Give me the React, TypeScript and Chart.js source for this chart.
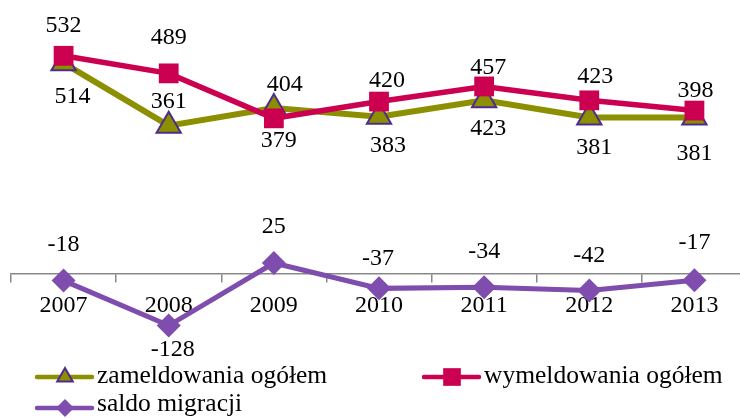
import React, { useEffect, useRef } from 'react';
import { Chart, registerables } from 'chart.js';

Chart.register(...registerables);

const categories = ['2007', '2008', '2009', '2010', '2011', '2012', '2013'];
const zameldowania = [514, 361, 404, 383, 423, 381, 381];
const wymeldowania = [532, 489, 379, 420, 457, 423, 398];
const saldo = [-18, -128, 25, -37, -34, -42, -17];

const seriesNames = ['zameldowania ogółem', 'wymeldowania ogółem', 'saldo migracji'];

const OLIVE = '#8C9000';
const RED = '#CC0050';
const PURPLE = '#7E4DAE';
const EDGE = '#4E2C8C';
const FONT = '"Liberation Serif", "Times New Roman", serif';

// label offsets (px) relative to each point, per series
const labelDy = [
  [34, -24, -23, 29, 28, 30, 36],
  [-30, -36, 22, -21, -19, -24, -20],
  [-36, 24, -36, -30, -35, -35, -37],
];
const labelDx = [
  [9, 0, 11, 9, 4, 5, 0],
  [0, 0, 5, 8, 4, 6, 1],
  [0, 4, 0, -1, 0, 0, 0],
];

function drawMarker(ctx: CanvasRenderingContext2D, style: string, x: number, y: number, r: number, fill: string, stroke?: string) {
  ctx.beginPath();
  if (style === 'triangle') {
    const h = Math.sqrt(3) / 2;
    ctx.moveTo(x, y - r);
    ctx.lineTo(x + r * h, y + r / 2);
    ctx.lineTo(x - r * h, y + r / 2);
    ctx.closePath();
  } else if (style === 'rect') {
    const s = r * Math.SQRT1_2;
    ctx.rect(x - s, y - s, 2 * s, 2 * s);
  } else {
    ctx.moveTo(x - r, y);
    ctx.lineTo(x, y - r);
    ctx.lineTo(x + r, y);
    ctx.lineTo(x, y + r);
    ctx.closePath();
  }
  ctx.fillStyle = fill;
  ctx.fill();
  if (stroke) {
    ctx.strokeStyle = stroke;
    ctx.lineWidth = 2;
    ctx.stroke();
  }
}

const pointLabels = {
  id: 'pointLabels',
  afterDatasetsDraw(chart: any) {
    const ctx = chart.ctx as CanvasRenderingContext2D;
    ctx.save();
    ctx.font = `24px ${FONT}`;
    ctx.fillStyle = '#000';
    ctx.textAlign = 'center';
    ctx.textBaseline = 'middle';
    chart.data.datasets.forEach((ds: any, di: number) => {
      const meta = chart.getDatasetMeta(di);
      meta.data.forEach((pt: any, i: number) => {
        ctx.fillText(String(ds.data[i]), pt.x + labelDx[di][i], pt.y + labelDy[di][i]);
      });
    });
    ctx.restore();
  },
};

const legendItems = [
  { x: 37, y: 377, style: 'triangle', r: 9, color: OLIVE, edge: EDGE },
  { x: 424, y: 377, style: 'rect', r: 12.5, color: RED, edge: undefined },
  { x: 37, y: 408, style: 'rectRot', r: 9, color: PURPLE, edge: undefined },
];

const customLegend = {
  id: 'customLegend',
  afterDraw(chart: any) {
    const ctx = chart.ctx as CanvasRenderingContext2D;
    ctx.save();
    legendItems.forEach((it, i) => {
      ctx.beginPath();
      ctx.strokeStyle = it.color;
      ctx.lineWidth = 4.5;
      ctx.lineCap = 'round';
      ctx.moveTo(it.x, it.y);
      ctx.lineTo(it.x + 55, it.y);
      ctx.stroke();
      drawMarker(ctx, it.style, it.x + 28, it.y, it.r, it.color, it.edge);
      ctx.font = `25.5px ${FONT}`;
      ctx.fillStyle = '#000';
      ctx.textAlign = 'left';
      ctx.textBaseline = 'middle';
      ctx.fillText(seriesNames[i], it.x + 60, it.y - (i === 2 ? 4 : 1));
    });
    ctx.restore();
  },
};

export default function App() {
  const ref = useRef<HTMLCanvasElement>(null);
  useEffect(() => {
    if (!ref.current) return;
    const chart = new Chart(ref.current, {
      type: 'line',
      data: {
        labels: categories,
        datasets: [
          {
            label: seriesNames[0],
            data: zameldowania,
            borderColor: OLIVE,
            backgroundColor: OLIVE,
            borderWidth: 6,
            pointStyle: 'triangle',
            pointRadius: 14,
            pointBackgroundColor: OLIVE,
            pointBorderColor: EDGE,
            pointBorderWidth: 2,
            tension: 0,
            order: 2,
          },
          {
            label: seriesNames[1],
            data: wymeldowania,
            borderColor: RED,
            backgroundColor: RED,
            borderWidth: 5.5,
            pointStyle: 'rect',
            pointRadius: 14,
            pointBackgroundColor: RED,
            pointBorderColor: RED,
            pointBorderWidth: 0,
            tension: 0,
            order: 1,
          },
          {
            label: seriesNames[2],
            data: saldo,
            borderColor: PURPLE,
            backgroundColor: PURPLE,
            borderWidth: 5,
            pointStyle: 'rectRot',
            pointRadius: 12,
            pointBackgroundColor: PURPLE,
            pointBorderColor: PURPLE,
            pointBorderWidth: 0,
            tension: 0,
            order: 0,
          },
        ],
      },
      options: {
        responsive: false,
        animation: false,
        devicePixelRatio: 1,
        layout: { autoPadding: false, padding: { left: 11, right: 0, top: 28, bottom: 63 } },
        plugins: {
          legend: { display: false },
          tooltip: { enabled: false },
        },
        scales: {
          x: {
            type: 'category',
            offset: true,
            position: { y: 0 } as any,
            afterFit: (scale: any) => {
              scale.paddingLeft = 0;
              scale.paddingRight = 0;
            },
            grid: {
              display: true,
              drawOnChartArea: false,
              drawTicks: true,
              tickLength: 8,
              offset: true,
              color: '#888888',
              lineWidth: 1.5,
            },
            border: { display: true, color: '#888888', width: 1.5 },
            ticks: {
              color: '#000',
              font: { family: FONT, size: 24 },
              padding: 10,
              maxRotation: 0,
              autoSkip: false,
            },
          },
          y: {
            display: false,
            min: -200,
            max: 600,
          },
        },
      },
      plugins: [pointLabels, customLegend],
    });
    return () => chart.destroy();
  }, []);
  return (
    <div style={{ position: 'fixed', left: 0, top: 0, width: 740, height: 418, overflow: 'hidden', background: '#fff' }}>
      <canvas ref={ref} width={747} height={418} style={{ display: 'block' }} />
    </div>
  );
}
